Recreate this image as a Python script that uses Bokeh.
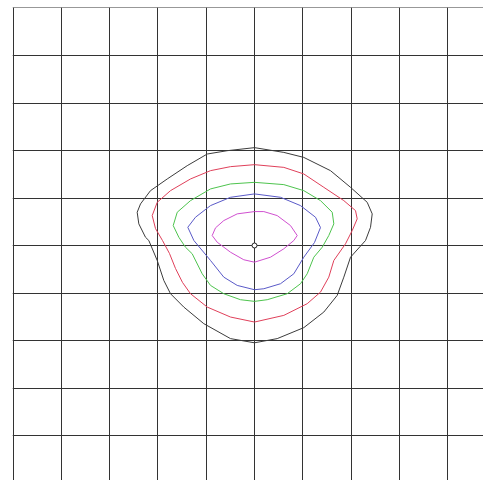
from bokeh.plotting import figure
from bokeh.models import Range1d, FixedTicker
from bokeh.embed import file_html
from bokeh.resources import INLINE

grid_ticks = [-5, -4, -3, -2, -1, 0, 1, 2, 3, 4, 5]

# contour data in grid-cell units, centre at (0, 0)
black_x = [0, 0.607, 1.02, 1.573, 1.988, 2.333, 2.437, 2.402, 2.298, 1.988, 1.849, 1.712, 1.435, 1.021, 0.470, 0,
           -0.497, -1.050, -1.464, -1.739, -1.878, -2.014, -2.188, -2.257, -2.395, -2.429, -2.360, -2.153, -1.807,
           -1.393, -0.979, -0.565]
black_y = [2.06, 1.96, 1.855, 1.576, 1.225, 0.910, 0.666, 0.384, 0.105, -0.246, -0.666, -1.050, -1.401, -1.729,
           -1.960, -2.048, -1.960, -1.645, -1.296, -1.015, -0.735, -0.315, 0.105, 0.174, 0.456, 0.700, 0.876,
           1.155, 1.401, 1.681, 1.926, 1.996]

red_x = [0, 0.607, 1.021, 1.435, 1.849, 2.091, 2.126, 2.023, 1.884, 1.642, 1.538, 1.366, 1.091, 0.607, 0,
         -0.497, -0.979, -1.325, -1.491, -1.636, -1.760, -1.905, -2.050, -2.118, -2.014, -1.739, -1.325,
         -0.911, -0.497]
red_y = [1.702, 1.645, 1.506, 1.225, 0.945, 0.735, 0.561, 0.315, 0.036, -0.315, -0.666, -0.981, -1.225,
         -1.471, -1.611, -1.506, -1.296, -1.015, -0.777, -0.483, -0.168, 0.105, 0.357, 0.630, 0.910, 1.155,
         1.401, 1.576, 1.660]

green_x = [0, 0.607, 1.021, 1.366, 1.609, 1.642, 1.538, 1.402, 1.228, 1.091, 0.952, 0.677, 0.263, 0,
           -0.290, -0.636, -0.911, -1.083, -1.290, -1.429, -1.567, -1.683, -1.600, -1.325, -0.911, -0.497]
green_y = [1.330, 1.282, 1.155, 0.945, 0.700, 0.456, 0.210, -0.036, -0.246, -0.595, -0.805, -1.015, -1.141,
           -1.176, -1.141, -1.015, -0.840, -0.595, -0.174, -0.036, 0.174, 0.420, 0.700, 0.945, 1.191, 1.296]

blue_x = [0, 0.538, 0.952, 1.263, 1.366, 1.242, 1.021, 0.814, 0.538, 0.193, 0, -0.358, -0.636, -0.911,
          -1.255, -1.381, -1.222, -0.911, -0.497]
blue_y = [1.086, 1.015, 0.840, 0.595, 0.378, 0.063, -0.246, -0.595, -0.805, -0.910, -0.931, -0.840, -0.666,
          -0.315, 0.105, 0.384, 0.595, 0.840, 1.015]

magenta_x = [0, 0.193, 0.470, 0.745, 0.884, 0.814, 0.607, 0.331, 0, -0.222, -0.497, -0.772, -0.876, -0.807,
             -0.636, -0.358]
magenta_y = [0.714, 0.714, 0.630, 0.420, 0.210, 0.105, -0.069, -0.246, -0.351, -0.300, -0.141, 0.069, 0.210,
             0.372, 0.525, 0.666]

contours = [
    (black_x, black_y, "#3c3c3c"),
    (red_x, red_y, "#e0405a"),
    (green_x, green_y, "#4ec44e"),
    (blue_x, blue_y, "#5a5ac8"),
    (magenta_x, magenta_y, "#d050d0"),
]

p = figure(width=483, height=480, output_backend="svg", toolbar_location=None,
           x_axis_location=None, y_axis_location=None,
           x_range=Range1d(-5.0104, 4.741), y_range=Range1d(-4.947, 5.0105))
p.min_border_left = 12
p.min_border_right = 0
p.min_border_top = 7
p.min_border_bottom = 0
p.outline_line_color = None
p.background_fill_color = "white"
p.border_fill_color = "white"

for g in (p.xgrid, p.ygrid):
    g.ticker = FixedTicker(ticks=grid_ticks)
    g.grid_line_color = "#333333"
    g.grid_line_width = 1
    g.grid_line_alpha = 1.0

for xs, ys, col in contours:
    p.line(xs + xs[:1], ys + ys[:1], line_color=col, line_width=1)

p.scatter([0], [0], marker="circle", size=5, fill_color="white", line_color="#222222", line_width=1)

open("out.html", "w").write(file_html(p, INLINE))
